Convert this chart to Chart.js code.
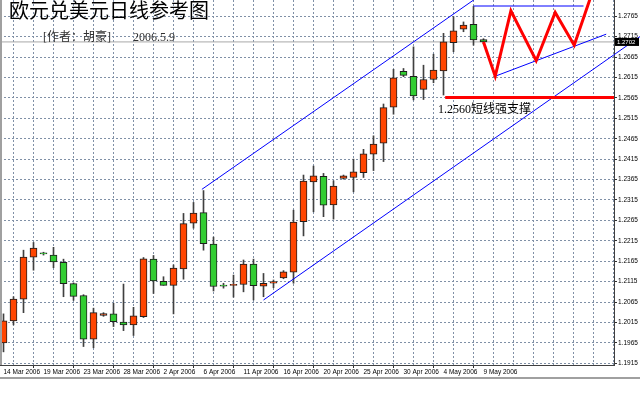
<!DOCTYPE html>
<html>
<head>
<meta charset="utf-8">
<script src="https://cdn.jsdelivr.net/npm/chart.js@4.4.1/dist/chart.umd.min.js"></script>
<style>
  html, body { margin: 0; padding: 0; background: #fff; }
  canvas { display: block; }
</style>
</head>
<body>
<canvas id="Chart" width="640" height="396"></canvas>
<script>
const dates = [
  "14 Mar 2006", "15 Mar 2006", "16 Mar 2006", "17 Mar 2006", "19 Mar 2006", "20 Mar 2006",
  "21 Mar 2006", "22 Mar 2006", "23 Mar 2006", "24 Mar 2006", "26 Mar 2006", "27 Mar 2006",
  "28 Mar 2006", "29 Mar 2006", "30 Mar 2006", "31 Mar 2006", "2 Apr 2006", "3 Apr 2006",
  "4 Apr 2006", "5 Apr 2006", "6 Apr 2006", "7 Apr 2006", "9 Apr 2006", "10 Apr 2006",
  "11 Apr 2006", "12 Apr 2006", "13 Apr 2006", "14 Apr 2006", "16 Apr 2006", "17 Apr 2006",
  "18 Apr 2006", "19 Apr 2006", "20 Apr 2006", "21 Apr 2006", "23 Apr 2006", "24 Apr 2006",
  "25 Apr 2006", "26 Apr 2006", "27 Apr 2006", "28 Apr 2006", "30 Apr 2006", "1 May 2006",
  "2 May 2006", "3 May 2006", "4 May 2006", "5 May 2006", "7 May 2006", "8 May 2006",
  "9 May 2006"
];
const opens = [
  1.1965, 1.2019, 1.2072, 1.2175, 1.2184, 1.2180, 1.2162, 1.2110, 1.2081, 1.1974,
  1.2032, 1.2036, 1.2016, 1.2009, 1.2029, 1.2170, 1.2116, 1.2106, 1.2146, 1.2258,
  1.2284, 1.2207, 1.2105, 1.2106, 1.2108, 1.2158, 1.2104, 1.2111, 1.2124, 1.2138,
  1.2262, 1.2359, 1.2373, 1.2303, 1.2368, 1.2370, 1.2382, 1.2427, 1.2454, 1.2542,
  1.2630, 1.2618, 1.2586, 1.2610, 1.2631, 1.2700, 1.2733, 1.2745, 1.2708
];
const highs = [
  1.2036, 1.2078, 1.2192, 1.2211, 1.2187, 1.2199, 1.2170, 1.2112, 1.2083, 1.2050,
  1.2039, 1.2062, 1.2109, 1.2052, 1.2174, 1.2179, 1.2127, 1.2156, 1.2282, 1.2309,
  1.2338, 1.2224, 1.2111, 1.2131, 1.2168, 1.2170, 1.2135, 1.2119, 1.2142, 1.2290,
  1.2376, 1.2398, 1.2380, 1.2362, 1.2376, 1.2415, 1.2439, 1.2472, 1.2550, 1.2635,
  1.2637, 1.2690, 1.2645, 1.2672, 1.2723, 1.2764, 1.2751, 1.2789, 1.2710
];
const lows = [
  1.1943, 1.2009, 1.2039, 1.2143, 1.2180, 1.2149, 1.2078, 1.2069, 1.1956, 1.1953,
  1.2030, 1.2005, 1.1995, 1.1983, 1.2027, 1.2086, 1.2106, 1.2036, 1.2121, 1.2246,
  1.2192, 1.2092, 1.2099, 1.2077, 1.2090, 1.2070, 1.2078, 1.2100, 1.2122, 1.2111,
  1.2227, 1.2286, 1.2274, 1.2268, 1.2366, 1.2335, 1.2370, 1.2387, 1.2409, 1.2525,
  1.2617, 1.2560, 1.2561, 1.2602, 1.2572, 1.2678, 1.2727, 1.2694, 1.2698
];
const closes = [
  1.2019, 1.2072, 1.2175, 1.2197, 1.2183, 1.2163, 1.2110, 1.2079, 1.1974, 1.2039,
  1.2037, 1.2017, 1.2009, 1.2031, 1.2171, 1.2117, 1.2106, 1.2148, 1.2257, 1.2283,
  1.2208, 1.2103, 1.2104, 1.2106, 1.2158, 1.2105, 1.2111, 1.2115, 1.2139, 1.2261,
  1.2361, 1.2374, 1.2302, 1.2349, 1.2374, 1.2384, 1.2428, 1.2452, 1.2541, 1.2614,
  1.2620, 1.2570, 1.2610, 1.2633, 1.2702, 1.2729, 1.2743, 1.2707, 1.2702
];
const yTicks = [
  1.1915, 1.1965, 1.2015, 1.2065, 1.2115, 1.2165, 1.2215, 1.2265, 1.2315,
  1.2365, 1.2415, 1.2465, 1.2515, 1.2565, 1.2615, 1.2665, 1.2715, 1.2765
];

// drawn annotations, in (bar index, price)
const upperChannel = [{ x: 19.84, y: 1.2341 }, { x: 47.5, y: 1.2813 }];
const lowerChannel = [{ x: 26.0, y: 1.2070 }, { x: 63.7, y: 1.2716 }];
const triangleTop = [{ x: 47.0, y: 1.2790 }, { x: 58.0, y: 1.2790 }];
const triangleBottom = [{ x: 49.17, y: 1.2618 }, { x: 60.27, y: 1.2721 }];
const zigzag = [
  { x: 48.0, y: 1.2702 }, { x: 49.17, y: 1.2618 }, { x: 50.74, y: 1.2778 },
  { x: 53.27, y: 1.2656 }, { x: 55.17, y: 1.2774 }, { x: 57.07, y: 1.2694 },
  { x: 58.9, y: 1.2825 }
];
const support = [{ x: 44.17, y: 1.2566 }, { x: 61.05, y: 1.2566 }];
const supportText = "1.2560短线强支撑";
const title = "欧元兑美元日线参考图";
const author = "[作者：胡豪]";
const dateNote = "2006.5.9";

const xMin = -0.35, xMax = 61.05;
const lastPrice = closes[closes.length - 1];

const bodies = opens.map((o, i) => ({ x: i, y: [o, closes[i]] }));
const wicks = lows.map((l, i) => ({ x: i, y: [l, highs[i]] }));
const bodyColors = opens.map((o, i) => (closes[i] >= o ? "#ff4500" : "#32cd32"));

const line = (data, color, width) => ({
  type: "line", data, borderColor: color, borderWidth: width,
  pointRadius: 0, tension: 0, fill: false, clip: false,
});

const notes = {
  id: "notes",
  afterDraw(chart) {
    const { ctx, chartArea, scales } = chart;
    ctx.save();
    ctx.fillStyle = "#a0a0a0";
    ctx.fillRect(0, 0, 2, chartArea.bottom);
    ctx.fillRect(0, chartArea.bottom + 12, chart.width, 2);

    ctx.textBaseline = "middle";
    ctx.fillStyle = "#000";
    ctx.font = '20px "Liberation Serif", "Noto Sans CJK SC"';
    ctx.fillText(title, chartArea.left + 9, chartArea.top + 13);
    ctx.fillStyle = "#303030";
    ctx.font = '12px "Liberation Serif", "Noto Sans CJK SC"';
    ctx.fillText(author, chartArea.left + 43, chartArea.top + 38);
    ctx.fillText(dateNote, chartArea.left + 133, chartArea.top + 38);

    ctx.fillStyle = "#000";
    ctx.font = '12px "Liberation Serif", "Noto Sans CJK SC"';
    ctx.fillText(supportText, scales.x.getPixelForValue(43.45), scales.y.getPixelForValue(1.2535));

    const py = scales.y.getPixelForValue(lastPrice);
    ctx.fillStyle = "#000";
    ctx.fillRect(chartArea.right + 1, py - 4, 24, 8);
    ctx.fillStyle = "#fff";
    ctx.font = '6px "Liberation Sans"';
    ctx.fillText(lastPrice.toFixed(4), chartArea.right + 3, py);
    ctx.restore();
  },
};

new Chart("Chart", {
  type: "bar",
  data: {
    datasets: [
      line(zigzag, "#ff0000", 3),
      line(support, "#ff0000", 3),
      line(upperChannel, "#0000ff", 1),
      line(lowerChannel, "#0000ff", 1),
      line(triangleTop, "#0000ff", 1),
      line(triangleBottom, "#0000ff", 1),
      {
        type: "bar", data: bodies, backgroundColor: bodyColors,
        borderColor: "#1e1e1e", borderWidth: 1, borderSkipped: false,
        barThickness: 7, grouped: false, minBarLength: 1,
      },
      {
        type: "bar", data: wicks, backgroundColor: "#404040",
        borderWidth: 0, barThickness: 1, grouped: false,
      },
      line([{ x: xMin, y: lastPrice }, { x: xMax, y: lastPrice }], "#a8a8a8", 1),
    ],
  },
  options: {
    responsive: false,
    animation: false,
    layout: { padding: 0 },
    plugins: { legend: { display: false }, tooltip: { enabled: false } },
    scales: {
      x: {
        type: "linear", min: xMin, max: xMax, offset: false,
        afterBuildTicks: (s) => {
          s.ticks = [];
          for (let i = 0; i <= 60; i += 2) s.ticks.push({ value: i });
        },
        afterFit: (s) => { s.height = 31; s.paddingLeft = 0; s.paddingRight = 0; },
        grid: {
          color: "#8090a6", lineWidth: 1, tickLength: 3,
          tickColor: (c) => (c.tick && c.tick.value % 4 === 0 && c.tick.value < dates.length ? "#303030" : "rgba(0,0,0,0)"),
        },
        border: { color: "#404040", dash: [2, 2] },
        ticks: {
          autoSkip: false, maxRotation: 0, align: "start", padding: 0,
          color: "#000", font: { family: "Liberation Sans", size: 6.5 },
          callback: (v) => (v % 4 === 0 && dates[v] ? dates[v] : ""),
        },
      },
      y: {
        position: "right", min: 1.19108, max: 1.28047,
        afterBuildTicks: (s) => { s.ticks = yTicks.map((v) => ({ value: v })); },
        afterFit: (s) => { s.width = 26; s.paddingTop = 0; s.paddingBottom = 0; },
        grid: { color: "#8090a6", lineWidth: 1, tickLength: 3, tickColor: "#303030" },
        border: { color: "#404040", dash: [2, 2] },
        ticks: {
          padding: 1, color: "#000", font: { family: "Liberation Sans", size: 6.5 },
          callback: (v) => v.toFixed(4),
        },
      },
    },
  },
  plugins: [notes],
});
</script>
</body>
</html>
